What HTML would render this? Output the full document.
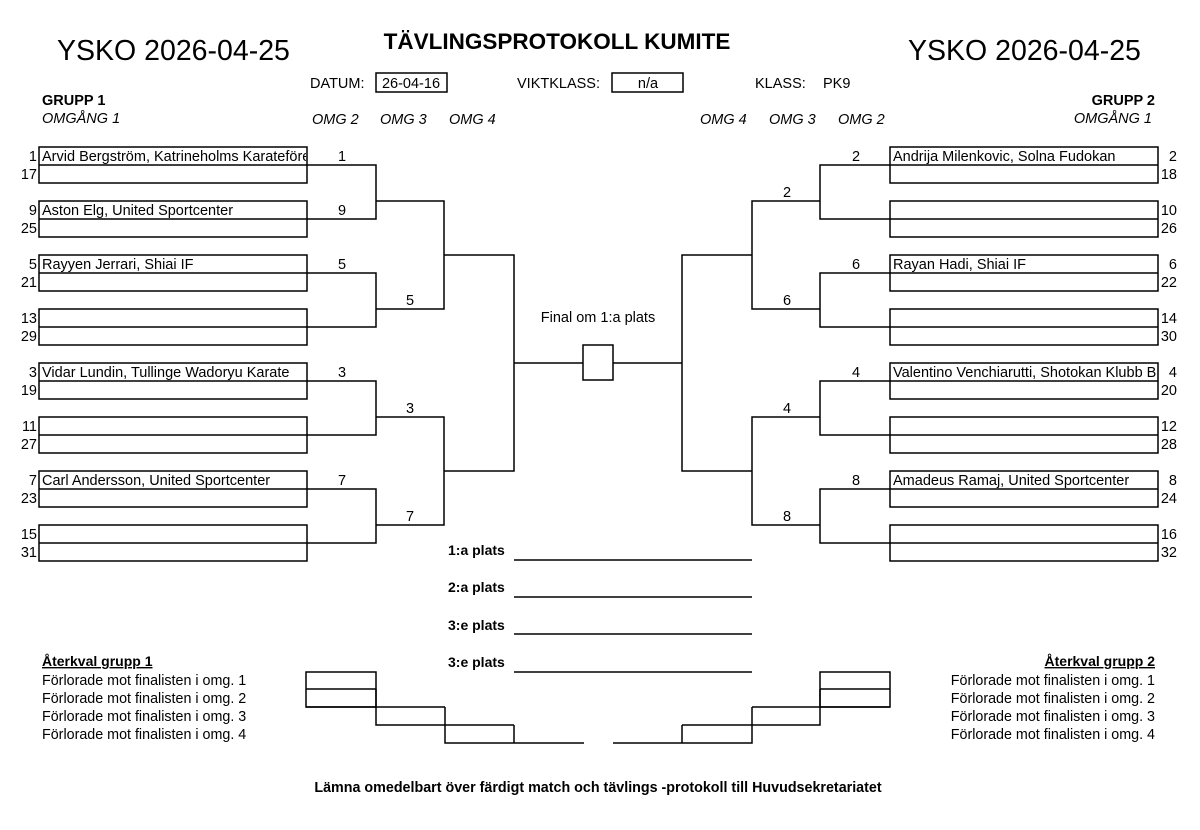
<!DOCTYPE html>
<html><head><meta charset="utf-8"><style>
html,body{margin:0;padding:0;background:#fff;}
svg{display:block;font-family:"Liberation Sans",Arial,sans-serif;}
</style></head><body>
<svg width="1200" height="830" viewBox="0 0 1200 830" xmlns="http://www.w3.org/2000/svg">
<defs><clipPath id="c1"><rect x="39" y="140" width="267" height="30"/></clipPath>
<clipPath id="c2"><rect x="890" y="360" width="268" height="30"/></clipPath></defs>
<rect width="1200" height="830" fill="#fff"/>
<g fill="#000">
<text x="57" y="60" font-size="28.5">YSKO 2026-04-25</text>
<text x="908" y="60" font-size="28.5">YSKO 2026-04-25</text>
<text x="557" y="49" font-size="22.5" font-weight="bold" text-anchor="middle">TÄVLINGSPROTOKOLL KUMITE</text>
<text x="310" y="88" font-size="14.5">DATUM:</text>
<text x="411" y="88" font-size="14.5" text-anchor="middle">26-04-16</text>
<text x="517" y="88" font-size="14.5">VIKTKLASS:</text>
<text x="648" y="88" font-size="14.5" text-anchor="middle">n/a</text>
<text x="755" y="88" font-size="14.5">KLASS:</text>
<text x="823" y="88" font-size="14.5">PK9</text>
<text x="42" y="105" font-size="14.5" font-weight="bold">GRUPP 1</text>
<text x="42" y="123" font-size="14.5" font-style="italic">OMGÅNG 1</text>
<text x="1155" y="105" font-size="14.5" font-weight="bold" text-anchor="end">GRUPP 2</text>
<text x="1152" y="123" font-size="14.5" font-style="italic" text-anchor="end">OMGÅNG 1</text>
<g font-size="14.5" font-style="italic">
<text x="312" y="124">OMG 2</text><text x="380" y="124">OMG 3</text><text x="449" y="124">OMG 4</text>
<text x="700" y="124">OMG 4</text><text x="769" y="124">OMG 3</text><text x="838" y="124">OMG 2</text>
</g>
<g font-size="14.5" text-anchor="end">
<text x="37" y="161">1</text><text x="37" y="179">17</text>
<text x="37" y="215">9</text><text x="37" y="233">25</text>
<text x="37" y="269">5</text><text x="37" y="287">21</text>
<text x="37" y="323">13</text><text x="37" y="341">29</text>
<text x="37" y="377">3</text><text x="37" y="395">19</text>
<text x="37" y="431">11</text><text x="37" y="449">27</text>
<text x="37" y="485">7</text><text x="37" y="503">23</text>
<text x="37" y="539">15</text><text x="37" y="557">31</text>
</g>
<g font-size="14.5" text-anchor="end">
<text x="1177" y="161">2</text><text x="1177" y="179">18</text>
<text x="1177" y="215">10</text><text x="1177" y="233">26</text>
<text x="1177" y="269">6</text><text x="1177" y="287">22</text>
<text x="1177" y="323">14</text><text x="1177" y="341">30</text>
<text x="1177" y="377">4</text><text x="1177" y="395">20</text>
<text x="1177" y="431">12</text><text x="1177" y="449">28</text>
<text x="1177" y="485">8</text><text x="1177" y="503">24</text>
<text x="1177" y="539">16</text><text x="1177" y="557">32</text>
</g>
<g font-size="14.5">
<text x="42" y="161" clip-path="url(#c1)">Arvid Bergström, Katrineholms Karateförening</text>
<text x="42" y="215">Aston Elg, United Sportcenter</text>
<text x="42" y="269">Rayyen Jerrari, Shiai IF</text>
<text x="42" y="377">Vidar Lundin, Tullinge Wadoryu Karate</text>
<text x="42" y="485">Carl Andersson, United Sportcenter</text>
<text x="893" y="161">Andrija Milenkovic, Solna Fudokan</text>
<text x="893" y="269">Rayan Hadi, Shiai IF</text>
<text x="893" y="377" clip-path="url(#c2)">Valentino Venchiarutti, Shotokan Klubb B</text>
<text x="893" y="485">Amadeus Ramaj, United Sportcenter</text>
</g>
<g font-size="14.5" text-anchor="middle">
<text x="342" y="161">1</text><text x="342" y="215">9</text><text x="342" y="269">5</text><text x="342" y="377">3</text><text x="342" y="485">7</text>
<text x="410" y="305">5</text><text x="410" y="413">3</text><text x="410" y="521">7</text>
<text x="856" y="161">2</text><text x="856" y="269">6</text><text x="856" y="377">4</text><text x="856" y="485">8</text>
<text x="787" y="197">2</text><text x="787" y="305">6</text><text x="787" y="413">4</text><text x="787" y="521">8</text>
<text x="598" y="322">Final om 1:a plats</text>
</g>
<g font-size="14" font-weight="bold">
<text x="448" y="555">1:a plats</text>
<text x="448" y="592">2:a plats</text>
<text x="448" y="630">3:e plats</text>
<text x="448" y="667">3:e plats</text>
</g>
<text x="42" y="666" font-size="14" font-weight="bold" text-decoration="underline">Återkval grupp 1</text>
<text x="1155" y="666" font-size="14" font-weight="bold" text-decoration="underline" text-anchor="end">Återkval grupp 2</text>
<g font-size="14.3">
<text x="42" y="685">Förlorade mot finalisten i omg. 1</text>
<text x="42" y="703">Förlorade mot finalisten i omg. 2</text>
<text x="42" y="721">Förlorade mot finalisten i omg. 3</text>
<text x="42" y="739">Förlorade mot finalisten i omg. 4</text>
</g>
<g font-size="14.3" text-anchor="end">
<text x="1155" y="685">Förlorade mot finalisten i omg. 1</text>
<text x="1155" y="703">Förlorade mot finalisten i omg. 2</text>
<text x="1155" y="721">Förlorade mot finalisten i omg. 3</text>
<text x="1155" y="739">Förlorade mot finalisten i omg. 4</text>
</g>
<text x="598" y="792" font-size="14.3" font-weight="bold" text-anchor="middle">Lämna omedelbart över färdigt match och tävlings -protokoll till Huvudsekretariatet</text>
</g>
<g fill="none" stroke="#000" stroke-width="1.5">
<rect x="376" y="73" width="71" height="19"/>
<rect x="612" y="73" width="71" height="19"/>
<rect x="39" y="147" width="268" height="36"/><rect x="39" y="201" width="268" height="36"/>
<rect x="39" y="255" width="268" height="36"/><rect x="39" y="309" width="268" height="36"/>
<rect x="39" y="363" width="268" height="36"/><rect x="39" y="417" width="268" height="36"/>
<rect x="39" y="471" width="268" height="36"/><rect x="39" y="525" width="268" height="36"/>
<rect x="890" y="147" width="268" height="36"/><rect x="890" y="201" width="268" height="36"/>
<rect x="890" y="255" width="268" height="36"/><rect x="890" y="309" width="268" height="36"/>
<rect x="890" y="363" width="268" height="36"/><rect x="890" y="417" width="268" height="36"/>
<rect x="890" y="471" width="268" height="36"/><rect x="890" y="525" width="268" height="36"/>
<path d="M39 165H376V219H39M39 273H376V327H39M39 381H376V435H39M39 489H376V543H39"/>
<path d="M376 201H444V309H376M376 417H444V525H376"/>
<path d="M444 255H514V471H444M514 363H583"/>
<path d="M1158 165H820V219H1158M1158 273H820V327H1158M1158 381H820V435H1158M1158 489H820V543H1158"/>
<path d="M820 201H752V309H820M820 417H752V525H820"/>
<path d="M752 255H682V471H752M682 363H613"/>
<rect x="583" y="345" width="30" height="35"/>
<path d="M514 560H752M514 597H752M514 634H752M514 672H752"/>
<rect x="306" y="672" width="70" height="35"/>
<path d="M306 689H376M306 707H445M376 689V725H514M445 707V743H584M514 725V743"/>
<rect x="820" y="672" width="70" height="35"/>
<path d="M820 689H890M890 707H752M820 689V725H682M752 707V743H613M682 725V743"/>
</g>
</svg>
</body></html>
